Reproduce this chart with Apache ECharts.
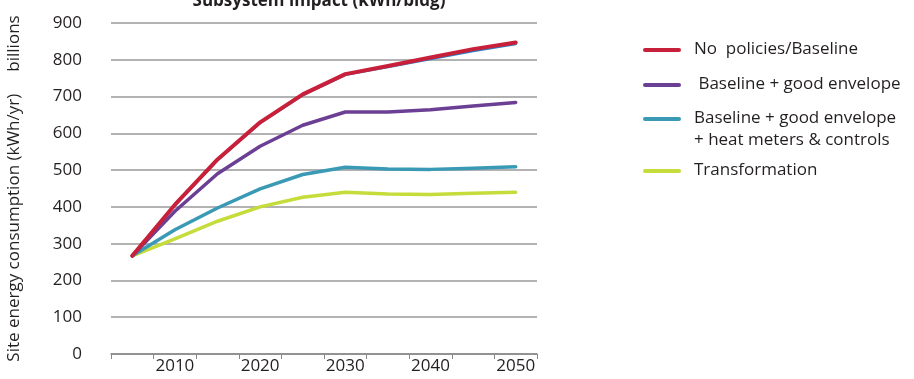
<!DOCTYPE html>
<html><head><meta charset="utf-8">
<script src="https://cdn.jsdelivr.net/npm/echarts@6/dist/echarts.min.js"></script>
<style>html,body{margin:0;padding:0;background:#fff}#c{width:914px;height:379px}</style>
</head><body><div id="c"></div>
<script>
var years = ['2005','2010','2015','2020','2025','2030','2035','2040','2045','2050'];
var yTicks = [0,100,200,300,400,500,600,700,800,900];
var baseline = [267,406,529,630,706,761,783,806,829,847];
var baselineAlt = [267,404,527,628,704,759,780,802,824,843];
var envelope = [267,388,490,565,622,658,658,664,674,684];
var envelopeMeters = [267,338,397,449,488,508,503,502,505,509];
var transformation = [267,313,361,400,426,440,435,434,437,440];
var names = ['No  policies/Baseline',' Baseline + good envelope','Baseline + good envelope\n+ heat meters & controls','Transformation'];
var colors = ['#c8203a','#6b3f94','#3a9ab5','#c5dc3a'];
var font = '"Open Sans", "DejaVu Sans", sans-serif';
var txt = '#231f20';

var chart = echarts.init(document.getElementById('c'));
var legendY = [50, 85, 119, 171];
var graphics = [];
names.forEach(function(n,i){
  graphics.push({type:'line', shape:{x1:645,y1:legendY[i],x2:679,y2:legendY[i]}, style:{stroke:colors[i], lineWidth:4, lineCap:'round'}});
  graphics.push({type:'text', left:694, top:legendY[i]-12, style:{text:n, font:'17px '+font, fill:txt, lineHeight:22}});
});
function mk(name, data, color, w, z){
  return {name:name, type:'line', data:data, symbol:'none', smooth:false, z:z,
    lineStyle:{color:color, width:w, cap:'round', join:'round'}, itemStyle:{color:color}};
}
chart.setOption({
  animation:false,
  title:{text:'Subsystem impact (kWh/bldg)', left:314, textAlign:'center', top:-12,
    textStyle:{fontFamily:font, fontSize:17, fontWeight:'bold', color:txt}},
  grid:{left:111, right:377, top:23, bottom:25},
  xAxis:{type:'category', data:years, boundaryGap:true,
    axisLine:{lineStyle:{color:'#888', width:1.5}},
    axisTick:{show:true, interval:0, length:5, lineStyle:{color:'#888'}},
    axisLabel:{interval:function(i){return i%2===1;}, fontFamily:font, fontSize:17, color:txt, margin:4}},
  yAxis:{type:'value', min:0, max:900, interval:100,
    name:'Site energy consumption (kWh/yr)     billions', nameLocation:'middle', nameGap:88, nameRotate:90,
    nameTextStyle:{fontFamily:font, fontSize:17, color:txt},
    axisLine:{show:false}, axisTick:{show:false},
    axisLabel:{fontFamily:font, fontSize:17, color:txt, margin:29,
      formatter:function(v){return yTicks.indexOf(v)>=0?String(v):'';}},
    splitLine:{lineStyle:{color:'#999', width:1.5}}},
  graphic:graphics,
  series:[
    mk('', baselineAlt, '#2a7fc0', 2.5, 2),
    mk(names[3], transformation, colors[3], 3.5, 3),
    mk(names[2], envelopeMeters, colors[2], 3.5, 4),
    mk(names[1], envelope, colors[1], 3.5, 5),
    mk(names[0], baseline, colors[0], 4, 6)
  ]
});
</script></body></html>
